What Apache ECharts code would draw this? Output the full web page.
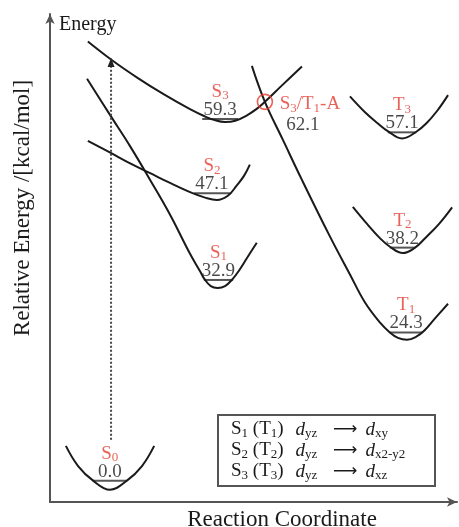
<!DOCTYPE html>
<html>
<head>
<meta charset="utf-8">
<script src="https://cdn.jsdelivr.net/npm/echarts@6/dist/echarts.min.js"></script>
<style>
  html, body { margin: 0; padding: 0; background: #fff; }
  #chart { width: 459px; height: 527px; }
</style>
</head>
<body>
<div id="chart"></div>
<script>
// Potential energy curves, points as [reaction coordinate (a.u.), relative energy (kcal/mol)]
const curveS0 = [[0.39, 5.7], [0.69, 2.4], [1.06, 0.0], [1.47, -1.5], [1.89, 0.0], [2.26, 2.4], [2.56, 5.7]];
const curveS1 = [[0.91, 65.9], [1.47, 60.0], [1.97, 54.8], [2.46, 49.3], [2.95, 43.6], [3.44, 37.2], [3.69, 34.3], [3.80, 33.0], [3.95, 31.9], [4.12, 31.6], [4.30, 31.9], [4.48, 33.0], [4.65, 34.5], [4.84, 36.5], [5.08, 39.0]];
const curveS2 = [[0.93, 55.7], [1.47, 53.8], [1.97, 52.0], [2.46, 50.4], [2.95, 48.8], [3.44, 47.3], [3.81, 46.4], [4.10, 46.0], [4.37, 46.7], [4.59, 48.4], [4.77, 50.0], [4.91, 51.8]];
const curveS3 = [[0.93, 72.0], [1.55, 68.8], [2.16, 66.0], [2.78, 63.4], [3.44, 60.9], [3.81, 59.7], [4.05, 59.1], [4.30, 58.8], [4.55, 59.0], [4.84, 59.9], [5.07, 60.9], [5.28, 62.1], [5.70, 64.8], [6.19, 67.9]];
const curveT1 = [[4.96, 68.0], [5.28, 62.1], [5.72, 55.9], [6.19, 49.3], [6.88, 40.0], [7.37, 33.8], [7.74, 29.2], [8.11, 25.9], [8.35, 24.3], [8.55, 23.4], [8.77, 23.1], [9.00, 23.6], [9.20, 24.6], [9.46, 26.6], [9.78, 29.0]];
const curveT2 = [[7.44, 44.9], [7.79, 42.1], [8.10, 39.8], [8.36, 38.3], [8.67, 37.3], [8.97, 38.2], [9.21, 39.7], [9.56, 42.1], [9.88, 44.8]];
const curveT3 = [[7.37, 63.0], [7.74, 60.4], [8.05, 58.6], [8.30, 57.3], [8.65, 56.1], [9.00, 57.2], [9.25, 58.6], [9.51, 60.6], [9.78, 63.2]];

// Electronic states: vibrational ground level energy and where its level sits on the reaction coordinate
const stateNames = ['S0', 'S1', 'S2', 'S3', 'T1', 'T2', 'T3'];
const stateEnergies = [0.0, 32.9, 47.1, 59.3, 24.3, 38.2, 57.1];
const levelCenters = [1.47, 4.14, 3.98, 4.18, 8.75, 8.66, 8.65];
const levelHalfWidths = [0.42, 0.36, 0.44, 0.44, 0.40, 0.31, 0.35];

// S3/T1 crossing point
const crossingName = 'S3/T1-A';
const crossingPoint = [5.28, 62.1];

// Vertical excitation from S0 (dotted arrow)
const excitation = [[1.50, 6.7], [1.50, 69.2]];

// Orbital character of the excited states
const legendStates = ['S1 (T1)', 'S2 (T2)', 'S3 (T3)'];
const legendFrom = ['yz', 'yz', 'yz'];
const legendTo = ['xy', 'x2-y2', 'xz'];

const SERIF = '"Liberation Serif", "Times New Roman", serif';
const RED = '#e23b30';
const INK = '#1a1a1a';

// Turn "S3/T1-A" into rich text with the digits as subscripts
function richName(name, main, small) {
  return name.replace(/(\D+)|(\d+)/g, (m, a, d) => a ? '{' + main + '|' + a + '}' : '{' + small + '|' + d + '}');
}

const chart = echarts.init(document.getElementById('chart'));

const curveSeries = [curveS0, curveS1, curveS2, curveS3, curveT1, curveT2, curveT3].map(pts => ({
  type: 'line',
  data: pts,
  smooth: 0.4,
  showSymbol: false,
  silent: true,
  z: 3,
  lineStyle: { color: INK, width: 2 }
}));

const levelSeries = stateNames.map((n, i) => ({
  type: 'line',
  data: [[levelCenters[i] - levelHalfWidths[i], stateEnergies[i]], [levelCenters[i] + levelHalfWidths[i], stateEnergies[i]]],
  showSymbol: false,
  silent: true,
  z: 2,
  lineStyle: { color: '#555', width: 2 }
}));

const labelRich = {
  n: { fontFamily: SERIF, fontSize: 19, color: RED, lineHeight: 18 },
  ns: { fontFamily: SERIF, fontSize: 13, color: RED, lineHeight: 18, padding: [8, 0, 0, 0] },
  v: { fontFamily: SERIF, fontSize: 19, color: INK, lineHeight: 18 }
};

const stateLabels = {
  type: 'scatter',
  symbolSize: 0,
  silent: true,
  z: 5,
  data: stateNames.map((n, i) => [levelCenters[i], stateEnergies[i]]),
  label: {
    show: true,
    position: 'top',
    distance: 0,
    align: 'center',
    formatter: p => richName(stateNames[p.dataIndex], 'n', 'ns') + '\n{v|' + stateEnergies[p.dataIndex].toFixed(1) + '}',
    rich: labelRich
  }
};

const crossing = {
  type: 'scatter',
  symbol: 'circle',
  symbolSize: 15,
  silent: true,
  z: 6,
  itemStyle: { color: 'rgba(0,0,0,0)', borderColor: RED, borderWidth: 1.6 },
  data: [crossingPoint],
  label: {
    show: true,
    position: 'inside',
    offset: [45, 13],
    align: 'center',
    formatter: () => richName(crossingName, 'n', 'ns') + '\n{v|' + crossingPoint[1].toFixed(1) + '}',
    rich: {
      n: { fontFamily: SERIF, fontSize: 19, color: RED, lineHeight: 21 },
      ns: { fontFamily: SERIF, fontSize: 13, color: RED, lineHeight: 21, padding: [8, 0, 0, 0] },
      v: { fontFamily: SERIF, fontSize: 19, color: INK, lineHeight: 21, padding: [0, 14, 0, 0] }
    }
  }
};

const excitationSeries = {
  type: 'line',
  silent: true,
  z: 4,
  data: [
    { value: excitation[0], symbol: 'none' },
    { value: excitation[1], symbol: 'triangle', symbolSize: [7, 9], symbolOffset: [0, 4] }
  ],
  showSymbol: true,
  itemStyle: { color: '#222' },
  lineStyle: { color: '#444', width: 2, type: [2, 2] }
};

const legendText = legendStates.map((s, i) =>
  richName(s, 't', 'ts') + '{gap|}' + '{d|d}{ds|' + legendFrom[i] + '}' + '{ar|⟶}' + '{d|d}{dt|' + legendTo[i] + '}'
).join('\n');

chart.setOption({
  animation: false,
  backgroundColor: '#fff',
  title: [
    {
      text: 'Energy',
      left: 59, top: 15,
      padding: 0,
      textStyle: { fontFamily: SERIF, fontSize: 20, fontWeight: 'normal', color: INK }
    },
    {
      text: legendText,
      left: 218, top: 415,
      padding: [4, 10, 4, 13],
      borderColor: '#555',
      borderWidth: 2,
      textStyle: {
        fontFamily: SERIF, fontSize: 19, fontWeight: 'normal', color: INK, lineHeight: 21,
        rich: {
          t: { fontFamily: SERIF, fontSize: 19, color: INK, lineHeight: 21 },
          ts: { fontFamily: SERIF, fontSize: 13, color: INK, lineHeight: 21, padding: [8, 0, 0, 0] },
          gap: { width: 12 },
          d: { fontFamily: SERIF, fontSize: 19, fontStyle: 'italic', color: INK, lineHeight: 21 },
          ds: { fontFamily: SERIF, fontSize: 13, color: INK, lineHeight: 21, padding: [8, 0, 0, 0], width: 22 },
          ar: { fontFamily: 'DejaVu Sans', fontSize: 17, color: INK, lineHeight: 21, padding: [0, 8, 0, 6] },
          dt: { fontFamily: SERIF, fontSize: 13, color: INK, lineHeight: 21, padding: [8, 0, 0, 0], width: 50 }
        }
      }
    }
  ],
  grid: { left: 50, right: 2, top: 14, bottom: 25, containLabel: false, outerBoundsMode: 'none' },
  xAxis: {
    type: 'value',
    min: 0, max: 10,
    name: 'Reaction Coordinate',
    nameLocation: 'middle',
    nameGap: 6,
    nameTextStyle: { fontFamily: SERIF, fontSize: 23, color: INK, padding: [0, 0, 0, 57] },
    axisLine: { onZero: false, lineStyle: { color: '#555', width: 2 }, symbol: ['none', 'arrow'], symbolSize: [7, 10] },
    axisTick: { show: false },
    axisLabel: { show: false },
    splitLine: { show: false }
  },
  yAxis: {
    type: 'value',
    min: -3.5, max: 76.5,
    name: 'Relative Energy /[kcal/mol]',
    nameLocation: 'middle',
    nameGap: 16,
    nameTextStyle: { fontFamily: SERIF, fontSize: 23, color: INK, padding: [0, 0, 0, 100] },
    axisLine: { onZero: false, lineStyle: { color: '#555', width: 2 }, symbol: ['none', 'arrow'], symbolSize: [7, 10] },
    axisTick: { show: false },
    axisLabel: { show: false },
    splitLine: { show: false }
  },
  series: [...curveSeries, ...levelSeries, stateLabels, crossing, excitationSeries]
});
</script>
</body>
</html>
